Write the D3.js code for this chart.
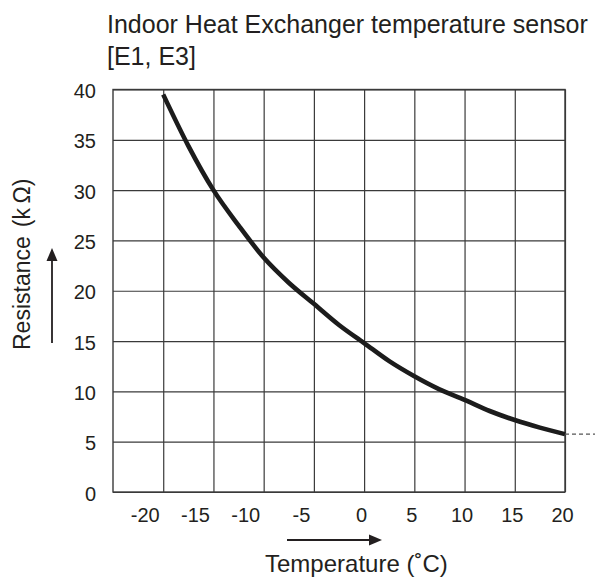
<!DOCTYPE html>
<html>
<head>
<meta charset="utf-8">
<script src="https://cdn.jsdelivr.net/npm/d3@7/dist/d3.min.js"></script>
<style>
  html, body { margin: 0; padding: 0; background: #fff; }
  svg { display: block; font-family: "Liberation Sans", Arial, Helvetica, sans-serif; }
</style>
</head>
<body>
<svg id="chart" width="595" height="577"></svg>
<script>
// Thermistor characteristic: temperature (°C) vs resistance (kΩ)
const temperatures = [-20, -17.5, -15, -12.5, -10, -7.5, -5, -2.5, 0, 2.5, 5, 7.5, 10, 12.5, 15, 17.5, 20];
const resistances  = [39.5, 34.4, 30.0, 26.5, 23.3, 20.8, 18.7, 16.6, 14.8, 13.0, 11.5, 10.2, 9.15, 8.05, 7.15, 6.4, 5.75];

const xTickValues = [-20, -15, -10, -5, 0, 5, 10, 15, 20];
const yTickValues = [0, 5, 10, 15, 20, 25, 30, 35, 40];

const titleLines = ["Indoor Heat Exchanger temperature sensor", "[E1, E3]"];
const xLabel = "Temperature (˚C)";
const yLabelMain = "Resistance";
const yLabelUnit = "(k\u2009Ω)";

const ink = "#231f20";
const gridInk = "#3a3a3a";

const svg = d3.select("#chart");

const plotLeft = 113, plotRight = 565, plotTop = 89.5, plotBottom = 492;
const x = d3.scaleLinear().domain([-25, 20]).range([plotLeft, plotRight]);
const y = d3.scaleLinear().domain([0, 40]).range([plotBottom, plotTop]);

// Title
svg.append("g").selectAll("text")
  .data(titleLines)
  .join("text")
  .attr("x", 107)
  .attr("y", (d, i) => 33 + i * 32)
  .attr("font-size", 25)
  .attr("fill", ink)
  .text(d => d);

// Vertical grid + x tick labels
const xAxis = d3.axisBottom(x)
  .tickValues(xTickValues)
  .tickSize(-(plotBottom - plotTop))
  .tickFormat(d3.format("d"));

const gx = svg.append("g")
  .attr("transform", `translate(0,${plotBottom})`)
  .call(xAxis);
gx.select(".domain").remove();
gx.selectAll(".tick line").attr("stroke", gridInk).attr("stroke-width", 1.2);
gx.selectAll(".tick text")
  .attr("font-size", 20)
  .attr("font-family", null)
  .attr("fill", ink)
  .attr("y", 30)
  .attr("dy", 0)
  .attr("text-anchor", d => d < 0 ? "end" : "middle")
  .attr("x", d => d < 0 ? -4 : -3)
  .text(d => d < 0 ? "-" + Math.abs(d) : d);

// Horizontal grid + y tick labels
const yAxis = d3.axisLeft(y)
  .tickValues(yTickValues)
  .tickSize(-(plotRight - plotLeft))
  .tickFormat(d3.format("d"));

const gy = svg.append("g")
  .attr("transform", `translate(${plotLeft},0)`)
  .call(yAxis);
gy.select(".domain").remove();
gy.selectAll(".tick line").attr("stroke", gridInk).attr("stroke-width", 1.2);
gy.selectAll(".tick text")
  .attr("font-size", 20)
  .attr("font-family", null)
  .attr("fill", ink)
  .attr("x", -17)
  .attr("dy", "0.4em");

// Plot frame
svg.append("rect")
  .attr("x", plotLeft).attr("y", plotTop)
  .attr("width", plotRight - plotLeft).attr("height", plotBottom - plotTop)
  .attr("fill", "none")
  .attr("stroke", gridInk)
  .attr("stroke-width", 1.4);

// Characteristic curve
const points = temperatures.map((t, i) => [t, resistances[i]]);
const line = d3.line()
  .x(d => x(d[0]))
  .y(d => y(d[1]))
  .curve(d3.curveMonotoneX);

svg.append("path")
  .datum(points)
  .attr("d", line)
  .attr("fill", "none")
  .attr("stroke", "#1c1c1c")
  .attr("stroke-width", 4.6)
  .attr("stroke-linecap", "butt");

// Continuation beyond the last temperature
const last = points[points.length - 1];
svg.append("line")
  .attr("x1", x(last[0])).attr("x2", 595)
  .attr("y1", y(last[1])).attr("y2", y(last[1]))
  .attr("stroke", "#555")
  .attr("stroke-width", 1.3)
  .attr("stroke-dasharray", "4,3");

// X axis title with arrow
svg.append("line")
  .attr("x1", 287).attr("x2", 371)
  .attr("y1", 540).attr("y2", 540)
  .attr("stroke", ink).attr("stroke-width", 1.8);
svg.append("path")
  .attr("d", "M369,534.5 L382,540 L369,545.5 Z")
  .attr("fill", ink);
svg.append("text")
  .attr("x", 265).attr("y", 572)
  .attr("font-size", 24)
  .attr("fill", ink)
  .text(xLabel);

// Y axis title with arrow
svg.append("line")
  .attr("x1", 52).attr("x2", 52)
  .attr("y1", 343).attr("y2", 259)
  .attr("stroke", ink).attr("stroke-width", 1.8);
svg.append("path")
  .attr("d", "M46.5,261 L52,248 L57.5,261 Z")
  .attr("fill", ink);

const yl = svg.append("text")
  .attr("transform", "translate(30,350) rotate(-90)")
  .attr("font-size", 23)
  .attr("fill", ink);
yl.append("tspan").text(yLabelMain);
yl.append("tspan").attr("dx", 9).text(yLabelUnit);
</script>
</body>
</html>
